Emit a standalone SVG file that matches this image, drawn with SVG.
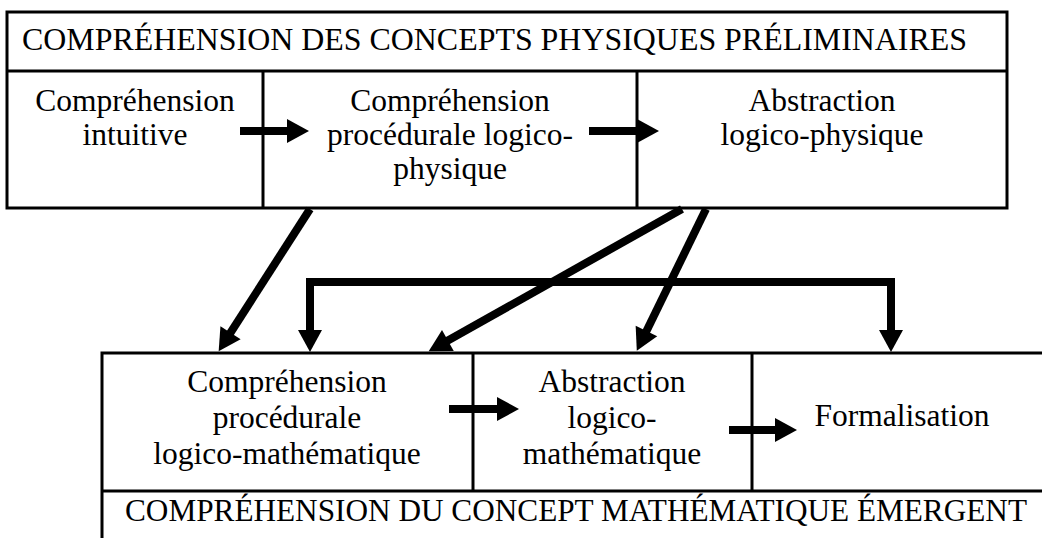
<svg xmlns="http://www.w3.org/2000/svg" width="1042" height="538" viewBox="0 0 1042 538">
<style>
.box{fill:none;stroke:#000;stroke-width:3}
.ln{stroke:#000;stroke-width:3;fill:none}
.t{font-family:"Liberation Serif","Times New Roman",serif;font-size:31.5px;fill:#000;text-anchor:middle}
.ts{font-family:"Liberation Serif","Times New Roman",serif;font-size:31.5px;fill:#000}
.c{stroke:#000;stroke-width:8;fill:none;stroke-linejoin:miter;marker-end:url(#ah)}
</style>
<defs>
<marker id="ah" markerUnits="userSpaceOnUse" markerWidth="24" markerHeight="26" refX="1" refY="12" orient="auto-start-reverse" viewBox="0 0 24 26" overflow="visible">
<path d="M0,0 L22,12 L0,24 z" fill="#000"/>
</marker>
</defs>
<rect width="1042" height="538" fill="#fff"/>
<g id="top-frame">
<rect class="box" x="7" y="12" width="1000" height="196"/>
<line class="ln" x1="7" y1="71" x2="1007" y2="71"/>
<text class="ts" x="22" y="50" textLength="945" lengthAdjust="spacingAndGlyphs">COMPRÉHENSION DES CONCEPTS PHYSIQUES PRÉLIMINAIRES</text>
</g>
<g id="n-intuitive">
<line class="ln" x1="263" y1="71" x2="263" y2="208"/>
<text class="t" x="135" y="111">Compréhension</text>
<text class="t" x="135" y="145">intuitive</text>
</g>
<g id="n-proc-phys">
<line class="ln" x1="637" y1="71" x2="637" y2="208"/>
<text class="t" x="450" y="111">Compréhension</text>
<text class="t" x="450" y="145">procédurale logico-</text>
<text class="t" x="450" y="179">physique</text>
</g>
<g id="n-abs-phys">
<text class="t" x="822" y="111">Abstraction</text>
<text class="t" x="822" y="145">logico-physique</text>
</g>
<g id="bottom-frame">
<path class="ln" d="M1042,353 H102 V538"/>
<line class="ln" x1="102" y1="491" x2="1042" y2="491"/>
<text class="ts" x="125" y="521" textLength="902" lengthAdjust="spacingAndGlyphs">COMPRÉHENSION DU CONCEPT MATHÉMATIQUE ÉMERGENT</text>
</g>
<g id="n-proc-math">
<line class="ln" x1="473" y1="353" x2="473" y2="491"/>
<text class="t" x="287" y="392">Compréhension</text>
<text class="t" x="287" y="428">procédurale</text>
<text class="t" x="287" y="464">logico-mathématique</text>
</g>
<g id="n-abs-math">
<line class="ln" x1="752" y1="353" x2="752" y2="491"/>
<text class="t" x="612" y="392">Abstraction</text>
<text class="t" x="612" y="428">logico-</text>
<text class="t" x="612" y="464">mathématique</text>
</g>
<g id="n-formal">
<text class="t" x="902" y="426">Formalisation</text>
</g>
<g id="connectors">
<line class="c" x1="240" y1="131" x2="288" y2="131"/>
<line class="c" x1="589" y1="131" x2="638" y2="131"/>
<line class="c" x1="449" y1="409" x2="498" y2="409"/>
<line class="c" x1="729" y1="430" x2="776" y2="430"/>
<line class="c" x1="310" y1="209" x2="230" y2="333.5"/>
<line class="c" x1="682" y1="209" x2="447" y2="341"/>
<line class="c" x1="706" y1="209" x2="646" y2="332"/>
<path class="c" style="marker-start:url(#ah)" d="M310,331 V282 H891 V331"/>
</g>
</svg>
